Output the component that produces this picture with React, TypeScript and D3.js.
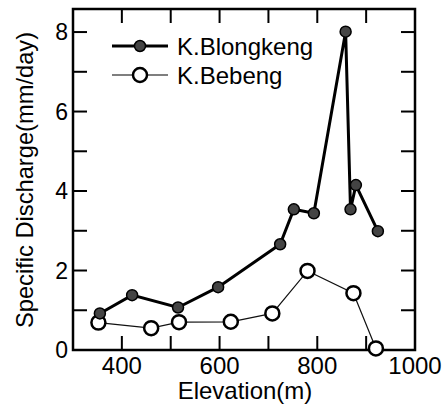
import { useEffect, useRef } from "react";
import * as d3 from "d3";

const blongElev = [355, 421, 515, 597, 724, 752, 793, 858, 868, 879, 924];
const blongQ = [0.92, 1.38, 1.07, 1.58, 2.66, 3.54, 3.44, 8.01, 3.54, 4.15, 2.99];
const bebengElev = [352, 460, 517, 623, 708, 780, 874, 920];
const bebengQ = [0.69, 0.55, 0.7, 0.71, 0.92, 1.99, 1.43, 0.04];
const xTicks = [400, 600, 800, 1000];
const yTicks = [0, 2, 4, 6, 8];
const legendNames = ["K.Blongkeng", "K.Bebeng"];

export default function App() {
  const ref = useRef<SVGSVGElement>(null);

  useEffect(() => {
    const left = 73, right = 415, top = 9, bottom = 350;
    const svg = d3.select(ref.current);
    svg.selectAll("*").remove();
    const font = "'Liberation Sans', Arial, sans-serif";

    const x = d3.scaleLinear().domain([300, 1000]).range([left, right]);
    const y = d3.scaleLinear().domain([0, 8.58]).range([bottom, top]);
    const tickLen = 14;

    // inward ticks on all four sides
    const g = svg.append("g").attr("stroke", "#000").attr("stroke-width", 2);
    d3.range(300, 1001, 100).forEach(v => {
      if (v === 300 || v === 1000) return;
      g.append("line").attr("x1", x(v)).attr("x2", x(v)).attr("y1", bottom).attr("y2", bottom - tickLen);
      g.append("line").attr("x1", x(v)).attr("x2", x(v)).attr("y1", top).attr("y2", top + tickLen);
    });
    d3.range(1, 9, 1).forEach(v => {
      g.append("line").attr("x1", left).attr("x2", left + tickLen).attr("y1", y(v)).attr("y2", y(v));
      g.append("line").attr("x1", right).attr("x2", right - tickLen).attr("y1", y(v)).attr("y2", y(v));
    });

    svg.append("rect")
      .attr("x", left).attr("y", top)
      .attr("width", right - left).attr("height", bottom - top)
      .attr("fill", "none").attr("stroke", "#000").attr("stroke-width", 2.5);

    svg.selectAll(".xt").data(xTicks).enter().append("text")
      .attr("x", d => x(d)).attr("y", 374)
      .attr("text-anchor", "middle")
      .attr("font-family", font).attr("font-size", 24)
      .text(d => d);

    svg.selectAll(".yt").data(yTicks).enter().append("text")
      .attr("x", 68).attr("y", d => y(d) + 8)
      .attr("text-anchor", "end")
      .attr("font-family", font).attr("font-size", 23)
      .text(d => d);

    svg.append("text")
      .attr("x", 245).attr("y", 399)
      .attr("text-anchor", "middle")
      .attr("font-family", font).attr("font-size", 24)
      .text("Elevation(m)");

    svg.append("text")
      .attr("transform", "translate(33,180) rotate(-90)")
      .attr("text-anchor", "middle")
      .attr("font-family", font).attr("font-size", 23.7)
      .text("Specific Discharge(mm/day)");

    const line = d3.line<[number, number]>().x(d => x(d[0])).y(d => y(d[1]));

    const beb = bebengElev.map((e, i) => [e, bebengQ[i]] as [number, number]);
    svg.append("path").datum(beb).attr("d", line)
      .attr("fill", "none").attr("stroke", "#111").attr("stroke-width", 1.2);
    svg.selectAll(".beb").data(beb).enter().append("circle")
      .attr("cx", d => x(d[0])).attr("cy", d => y(d[1])).attr("r", 7)
      .attr("fill", "#fff").attr("stroke", "#000").attr("stroke-width", 2.5);

    const blo = blongElev.map((e, i) => [e, blongQ[i]] as [number, number]);
    svg.append("path").datum(blo).attr("d", line)
      .attr("fill", "none").attr("stroke", "#000").attr("stroke-width", 3);
    svg.selectAll(".blo").data(blo).enter().append("circle")
      .attr("cx", d => x(d[0])).attr("cy", d => y(d[1])).attr("r", 5.5)
      .attr("fill", "#444").attr("stroke", "#000").attr("stroke-width", 1.5);

    // legend
    const ly = [46, 75];
    legendNames.forEach((name, i) => {
      svg.append("line").attr("x1", 112).attr("x2", 168).attr("y1", ly[i]).attr("y2", ly[i])
        .attr("stroke", "#000").attr("stroke-width", i === 0 ? 3 : 1.2);
      svg.append("circle").attr("cx", 140).attr("cy", ly[i])
        .attr("r", i === 0 ? 5.5 : 7)
        .attr("fill", i === 0 ? "#444" : "#fff")
        .attr("stroke", "#000").attr("stroke-width", i === 0 ? 1.5 : 2.5);
      svg.append("text").attr("x", 177).attr("y", ly[i] + 8.5)
        .attr("font-family", font).attr("font-size", 24)
        .text(name);
    });
  }, []);

  return (
    <svg ref={ref} width={445} height={415}
      style={{ position: "absolute", left: 0, top: 0, background: "#fff" }} />
  );
}
